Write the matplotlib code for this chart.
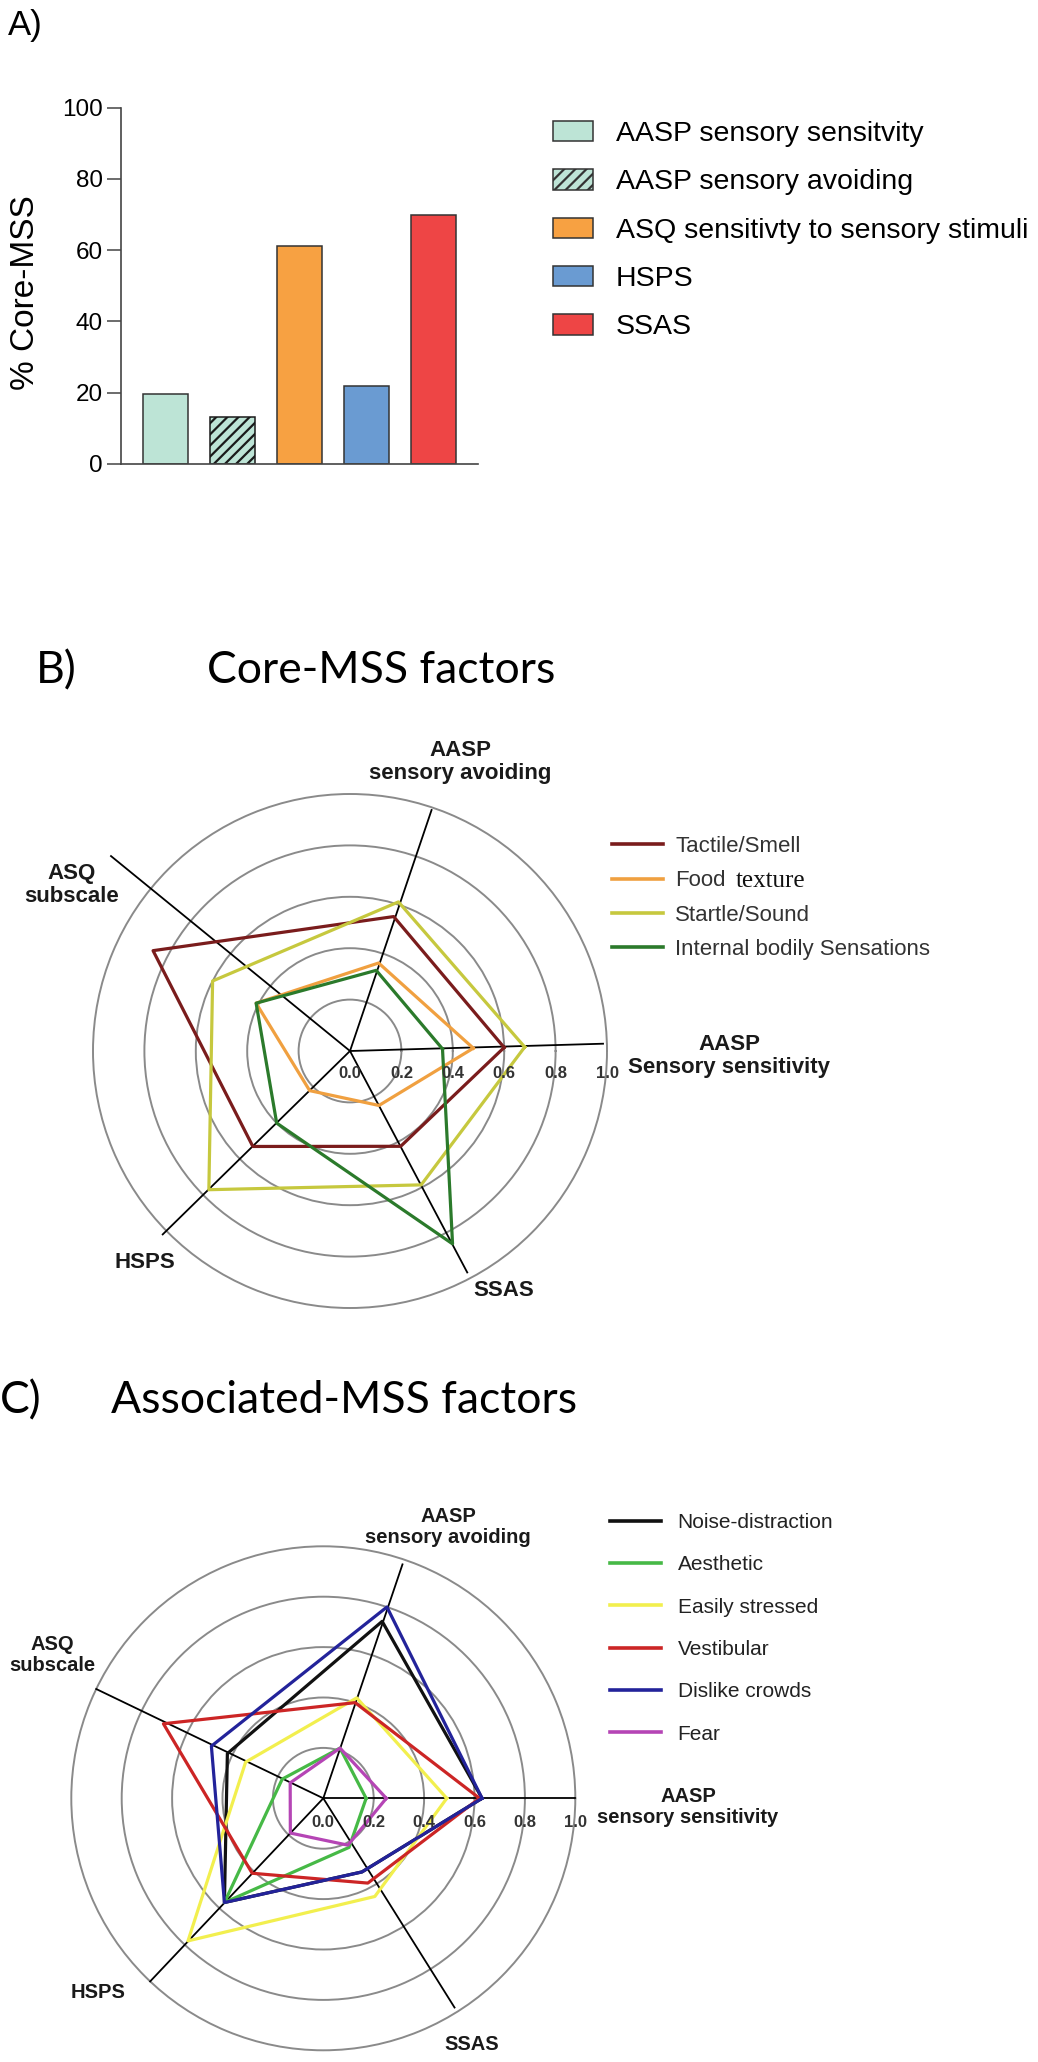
import numpy as np
import matplotlib
matplotlib.use("Agg")
import matplotlib.pyplot as plt
from matplotlib.patches import Patch
from matplotlib.lines import Line2D
from matplotlib.transforms import offset_copy

plt.rcParams["font.family"] = ["Liberation Sans", "DejaVu Sans"]
plt.rcParams["hatch.linewidth"] = 1.6

# ---- panel A data ----
bar_labels = ["AASP sensory sensitvity", "AASP sensory avoiding",
              "ASQ sensitivty to sensory stimuli", "HSPS", "SSAS"]
bar_values = [19.7, 13.1, 61.3, 21.8, 69.8]
bar_colors = ["#bde4d6", "#bde4d6", "#f7a142", "#6a9bd2", "#ee4545"]
bar_hatches = [None, "///", None, None, None]

# ---- radar axes (B and C) ----
radar_b_axes = ["AASP\nSensory sensitivity", "AASP\nsensory avoiding", "ASQ\nsubscale", "HSPS", "SSAS"]
radar_c_axes = ["AASP\nsensory sensitivity", "AASP\nsensory avoiding", "ASQ\nsubscale", "HSPS", "SSAS"]
ring_values = [0.2, 0.4, 0.6, 0.8, 1.0]
tick_values = [0.0, 0.2, 0.4, 0.6, 0.8, 1.0]

# ---- panel B data ----
core_factors = ["Tactile/Smell", "Food", "Startle/Sound", "Internal bodily Sensations"]
core_colors = ["#7a1c1c", "#f0a040", "#c6c83e", "#2b7a2b"]
tactile_smell = [0.60, 0.55, 0.86, 0.53, 0.42]
food_texture = [0.48, 0.36, 0.41, 0.22, 0.24]
startle_sound = [0.68, 0.61, 0.60, 0.77, 0.59]
internal_bodily = [0.36, 0.33, 0.41, 0.40, 0.85]

# ---- panel C data ----
assoc_factors = ["Noise-distraction", "Aesthetic", "Easily stressed", "Vestibular", "Dislike crowds", "Fear"]
assoc_colors = ["#111111", "#46b946", "#f2ef4e", "#cc2525", "#23239a", "#b545b5"]
noise_distraction = [0.63, 0.74, 0.42, 0.57, 0.33]
aesthetic = [0.17, 0.21, 0.18, 0.57, 0.22]
easily_stressed = [0.49, 0.42, 0.34, 0.78, 0.44]
vestibular = [0.62, 0.40, 0.70, 0.41, 0.38]
dislike_crowds = [0.63, 0.80, 0.49, 0.57, 0.33]
fear = [0.25, 0.21, 0.145, 0.19, 0.21]

W, H = 1038, 2062
fig = plt.figure(figsize=(W / 100, H / 100), dpi=100)


def fx(px):
    return px / W


def fy(py):
    return 1 - py / H


# ================= A) bar chart =================
axa = fig.add_axes([fx(120.7), fy(464), fx(357.3), 356.3 / H])
xpos = np.arange(len(bar_values))
bars = axa.bar(xpos, bar_values, width=0.67, color=bar_colors, edgecolor="#333333", linewidth=1.1)
for b, h in zip(bars, bar_hatches):
    if h:
        b.set_hatch(h)
        b.set_edgecolor("#1a1a1a")
axa.set_xlim(-0.67, 4.66)
axa.set_ylim(0, 100)
axa.set_yticks([0, 20, 40, 60, 80, 100])
axa.set_xticks([])
for s in ["top", "right"]:
    axa.spines[s].set_visible(False)
for s in ["left", "bottom"]:
    axa.spines[s].set_color("#444444")
    axa.spines[s].set_linewidth(1.2)
axa.tick_params(axis="y", direction="out", length=10, width=1.1, color="#444444", labelsize=17.5, pad=3)
axa.set_ylabel("% Core-MSS", fontsize=24)
axa.yaxis.set_label_coords(-0.222, 0.48)

handles_a = [Patch(facecolor=c, edgecolor="#333333", hatch=h, linewidth=1.1)
             for c, h in zip(bar_colors, bar_hatches)]
fig.legend(handles_a, bar_labels, loc="upper left", bbox_to_anchor=(fx(553), fy(121)),
           frameon=False, fontsize=20.5, handlelength=1.42, handleheight=0.72,
           handletextpad=0.78, labelspacing=0.78, borderpad=0, borderaxespad=0)

fig.text(fx(8), fy(35), "A)", fontsize=25, va="baseline")


# ================= radar helper =================
def radar(center, radius, rmax, data_angles, spoke_angles, spoke_lengths, series, colors, tick_dy):
    cx, cy = center
    half = rmax * radius
    ax = fig.add_axes([fx(cx - half), fy(cy + half), fx(2 * half), 2 * half / H], projection="polar")
    ax.set_ylim(0, rmax)
    ax.set_rgrids(ring_values, labels=[""] * len(ring_values))
    ax.set_thetagrids([], labels=[])
    ax.yaxis.grid(True, color="#8a8a8a", linewidth=1.4)
    ax.xaxis.grid(False)
    ax.spines["polar"].set_visible(False)
    ax.patch.set_alpha(0)
    th_spoke = np.deg2rad(spoke_angles)
    for t, L in zip(th_spoke, spoke_lengths):
        ax.plot([t, t], [0, L], color="black", linewidth=1.3, zorder=3)
    th = np.deg2rad(data_angles + [data_angles[0]])
    for vals, c in zip(series, colors):
        ax.plot(th, vals + [vals[0]], color=c, linewidth=2.3, zorder=4)
    tr = offset_copy(ax.transData, fig=fig, x=0, y=-tick_dy, units="dots")
    for v in tick_values:
        ax.text(0, v, f"{v:.1f}", transform=tr, ha="center", va="center",
                fontsize=12, fontweight="bold", color="#333333", zorder=5)
    return ax


# ================= B) core factors =================
fig.text(fx(36), fy(683), "B)", fontsize=32, family=["Lato", "DejaVu Sans"], va="baseline")
fig.text(fx(207), fy(683), "Core-MSS factors", fontsize=32, family=["Lato", "DejaVu Sans"], va="baseline")

axb = radar((350, 1051), 257, 1.22,
            [1.3, 72.0, 153.0, 224.5, 298.0],
            [1.65, 71.3, 140.8, 224.4, 297.9],
            [0.985, 0.99, 1.20, 1.02, 0.975],
            [tactile_smell, food_texture, startle_sound, internal_bodily],
            core_colors, 22)

b_label_pos = [(729, 1056), (460, 762), (72, 885), (145, 1263), (504, 1291)]
for txt, (px, py) in zip(radar_b_axes, b_label_pos):
    fig.text(fx(px), fy(py), txt, fontsize=16, fontweight="bold", color="#1a1a1a",
             ha="center", va="center", linespacing=1.1)

handles_b = [Line2D([], [], color=c, linewidth=2.6) for c in core_colors]
leg_b = fig.legend(handles_b, core_factors, loc="upper left", bbox_to_anchor=(fx(612), fy(836)),
                   frameon=False, fontsize=16, handlelength=2.3, handletextpad=0.55,
                   labelspacing=0.6, borderpad=0, borderaxespad=0)
for t in leg_b.get_texts():
    t.set_color("#333333")
food_text = leg_b.get_texts()[1]
fig.canvas.draw()
ext = food_text.get_window_extent()
fig.text(fx(ext.x1 + 10), (ext.y0 + ext.y1) / 2 / H, "texture", fontsize=18,
         family=["Liberation Serif", "DejaVu Serif"], va="center", color="#111111")

# ================= C) associated factors =================
fig.text(fx(0), fy(1413), "C)", fontsize=32, family=["Lato", "DejaVu Sans"], va="baseline")
fig.text(fx(111), fy(1413), "Associated-MSS factors", fontsize=32, family=["Lato", "DejaVu Sans"], va="baseline")

axc = radar((323.3, 1798.3), 252, 1.03,
            [0.0, 71.6, 155.0, 226.5, 297.7],
            [0.0, 71.3, 154.3, 226.6, 302.1],
            [1.0, 0.98, 1.0, 1.0, 0.98],
            [noise_distraction, aesthetic, easily_stressed, vestibular, dislike_crowds, fear],
            assoc_colors, 24)

c_label_pos = [(688, 1807), (448, 1527), (52, 1655), (98, 1993), (472, 2044)]
for txt, (px, py) in zip(radar_c_axes, c_label_pos):
    fig.text(fx(px), fy(py), txt, fontsize=14.5, fontweight="bold", color="#1a1a1a",
             ha="center", va="center", linespacing=1.1)

handles_c = [Line2D([], [], color=c, linewidth=2.6) for c in assoc_colors]
leg_c = fig.legend(handles_c, assoc_factors, loc="upper left", bbox_to_anchor=(fx(610), fy(1513)),
                   frameon=False, fontsize=15, handlelength=2.45, handletextpad=0.8,
                   labelspacing=1.12, borderpad=0, borderaxespad=0)
for t in leg_c.get_texts():
    t.set_color("#222222")

fig.savefig("out.png", dpi=100)
